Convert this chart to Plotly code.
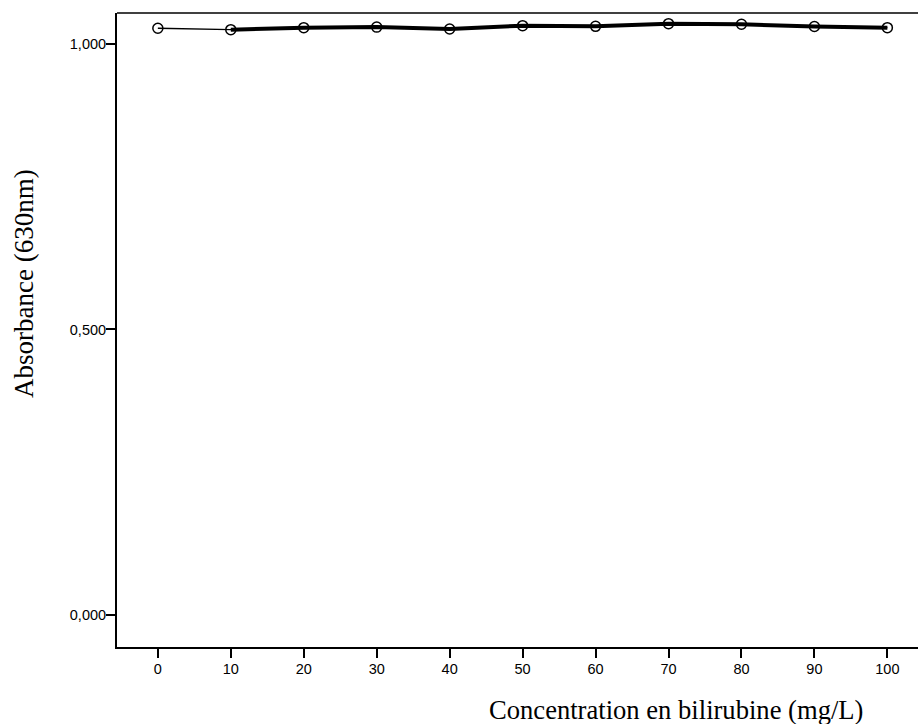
import plotly.graph_objects as go

concentration = [0, 10, 20, 30, 40, 50, 60, 70, 80, 90, 100]
absorbance_all = [1.027, 1.0245, 1.028, 1.029, 1.0257, 1.0315, 1.0304, 1.035, 1.034, 1.030, 1.028]
absorbance_series2 = [None, 1.0245, 1.028, 1.029, 1.0257, 1.0315, 1.0304, 1.035, 1.034, 1.030, 1.028]
y_ticks = [0.0, 0.5, 1.0]
x_ticks = [0, 10, 20, 30, 40, 50, 60, 70, 80, 90, 100]

fig = go.Figure()
fig.add_trace(go.Scatter(
    x=concentration, y=absorbance_series2, mode="lines",
    line=dict(color="black", width=4), connectgaps=False,
    showlegend=False, hoverinfo="skip"))
fig.add_trace(go.Scatter(
    x=concentration, y=absorbance_all, mode="lines+markers",
    line=dict(color="black", width=1.3),
    marker=dict(symbol="circle-open", size=10, color="black", line=dict(width=1.5)),
    showlegend=False))

fig.update_layout(
    width=918, height=724,
    margin=dict(l=117, r=0, t=13, b=77),
    plot_bgcolor="white", paper_bgcolor="white",
    separators=", ",
    font=dict(family="Liberation Sans, Arial", size=14.5, color="black"),
    xaxis=dict(range=[-5.6, 104.2], tickvals=x_ticks, ticks="outside", ticklen=9,
               tickwidth=2, tickcolor="black", showline=True, linewidth=2,
               linecolor="black", showgrid=False, zeroline=False,
               ticklabelstandoff=-1, tickfont=dict(size=14.5)),
    yaxis=dict(range=[-0.0555, 1.0537], tickvals=y_ticks, tickformat=".3f",
               ticks="outside", ticklen=9, tickwidth=2, tickcolor="black",
               showline=True, linewidth=2, linecolor="black", showgrid=False,
               zeroline=False, ticklabelstandoff=-3, tickfont=dict(size=14.5)),
    shapes=[dict(type="line", xref="paper", yref="paper", x0=0, x1=1, y0=1, y1=1,
                 line=dict(color="black", width=1.3))],
    annotations=[
        dict(text="Absorbance (630nm)", textangle=-90, xref="paper", yref="paper",
             x=(24 - 117) / 801, y=(647 - 284) / 634, showarrow=False,
             xanchor="center", yanchor="middle",
             font=dict(family="Liberation Serif, Times New Roman", size=27, color="black")),
        dict(text="Concentration en bilirubine (mg/L)", xref="paper", yref="paper",
             x=(676 - 117) / 801, y=0, yshift=-63, showarrow=False,
             xanchor="center", yanchor="middle",
             font=dict(family="Liberation Serif, Times New Roman", size=26.6, color="black")),
    ],
)

fig.write_html(
    "out.html",
    config={"displayModeBar": False},
    post_script="document.body.style.margin='0';document.body.style.overflow='hidden';",
)
